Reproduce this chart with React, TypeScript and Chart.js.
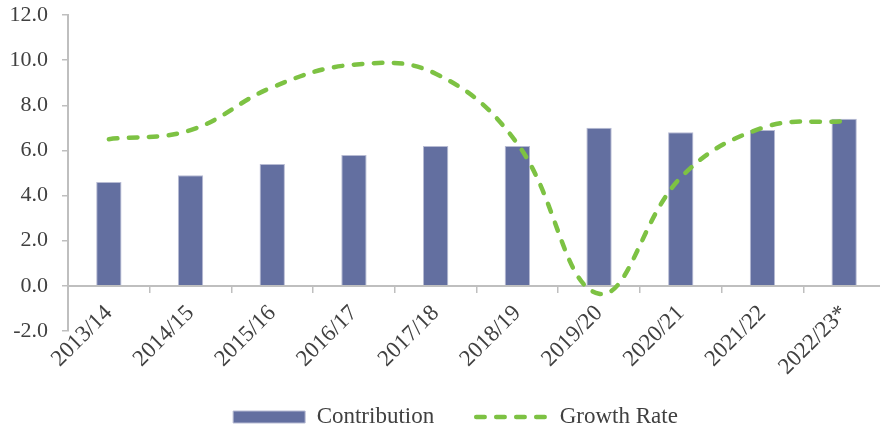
import React, { useEffect, useRef } from "react";
import { Chart, registerables } from "chart.js";

Chart.register(...registerables);

const categories = [
  "2013/14",
  "2014/15",
  "2015/16",
  "2016/17",
  "2017/18",
  "2018/19",
  "2019/20",
  "2020/21",
  "2021/22",
  "2022/23*",
];
const contribution = [4.6, 4.9, 5.4, 5.8, 6.2, 6.2, 7.0, 6.8, 6.9, 7.4];
const growthRate = [6.5, 6.9, 8.8, 9.8, 9.4, 6.3, -0.35, 4.8, 7.0, 7.3];
const yMin = -2;
const yMax = 12;
const yStep = 2;

const FONT = "'Liberation Serif', 'Times New Roman', serif";
const TEXT = "#404040";
const AXIS = "#bfbfbf";
const BAR = "#636FA0";
const BAR_BORDER = "#B7BBD3";
const GREEN = "#7DC243";
const DASH = [8.5, 11.5];
const LINE_W = 4.5;

const legendOffset = {
  id: "legendOffset",
  afterLayout(chart: any) {
    if (chart.legend) {
      chart.legend.left += 26;
    }
  },
};

export default function App() {
  const ref = useRef<HTMLCanvasElement | null>(null);

  useEffect(() => {
    document.body.style.overflow = "hidden";
    const canvas = ref.current;
    if (!canvas) return;
    const chart = new Chart(canvas, {
      type: "bar",
      data: {
        labels: categories,
        datasets: [
          {
            type: "bar",
            label: "Contribution",
            data: contribution,
            backgroundColor: BAR,
            borderColor: BAR_BORDER,
            borderWidth: 1,
            barPercentage: 0.31,
            categoryPercentage: 1,
            order: 1,
          },
          {
            type: "line",
            label: "Growth Rate",
            data: growthRate,
            borderColor: GREEN,
            backgroundColor: GREEN,
            borderWidth: LINE_W,
            borderDash: DASH,
            borderCapStyle: "round",
            pointRadius: 0,
            pointHoverRadius: 0,
            tension: 0.4,
            fill: false,
            order: 0,
          },
        ],
      },
      plugins: [legendOffset],
      options: {
        animation: false,
        responsive: true,
        maintainAspectRatio: false,
        layout: { padding: { top: 15, left: 0, right: 0, bottom: -9.5 } },
        plugins: {
          tooltip: { enabled: false },
          legend: {
            position: "bottom",
            title: {
              display: true,
              text: "",
              font: { size: 10, lineHeight: 1 },
              padding: { top: 22.5, bottom: 0 },
            },
            labels: {
              usePointStyle: true,
              pointStyleWidth: 72,
              boxHeight: 12,
              padding: 42,
              color: TEXT,
              font: { family: FONT, size: 23 },
              generateLabels: (c: any) => {
                const items = Chart.defaults.plugins.legend.labels.generateLabels(c);
                items.forEach((it: any) => {
                  if (it.datasetIndex === 0) {
                    it.pointStyle = "rect";
                    it.fillStyle = BAR;
                    it.strokeStyle = BAR_BORDER;
                    it.lineWidth = 1;
                  } else {
                    it.pointStyle = "line";
                    it.lineCap = "round";
                    it.lineDash = DASH;
                    it.lineWidth = LINE_W;
                    it.strokeStyle = GREEN;
                  }
                });
                items.sort((a: any, b: any) => a.datasetIndex - b.datasetIndex);
                return items;
              },
            },
          },
        },
        scales: {
          x: {
            position: { y: 0 } as any,
            offset: true,
            grid: {
              display: true,
              drawOnChartArea: false,
              drawTicks: true,
              tickLength: 6,
              color: AXIS,
              lineWidth: 1.5,
              offset: true,
            },
            border: { display: true, color: AXIS, width: 2 },
            ticks: {
              autoSkip: false,
              minRotation: 45,
              maxRotation: 45,
              color: TEXT,
              font: { family: FONT, size: 23 },
              padding: 8,
            },
          },
          y: {
            min: yMin,
            max: yMax,
            ticks: {
              stepSize: yStep,
              color: TEXT,
              font: { family: FONT, size: 22 },
              padding: 14,
              callback: (v: any) => Number(v).toFixed(1),
            },
            grid: {
              display: true,
              drawOnChartArea: false,
              tickLength: 6,
              color: AXIS,
              lineWidth: 1.5,
            },
            border: { display: true, color: AXIS, width: 2 },
            afterFit: (s: any) => {
              s.width = 68;
              s.paddingTop = 0;
              s.paddingBottom = 0;
            },
          },
        },
      },
    });
    return () => chart.destroy();
  }, []);

  return (
    <div style={{ position: "absolute", left: 0, top: 0, width: 885, height: 429 }}>
      <canvas ref={ref} />
    </div>
  );
}
